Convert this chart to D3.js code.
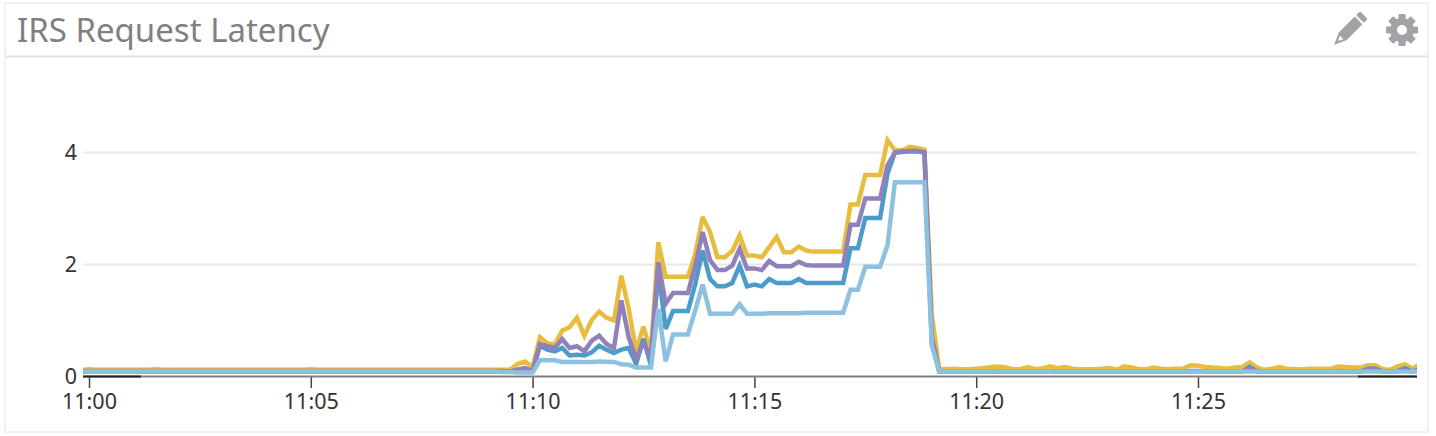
<!DOCTYPE html>
<html><head><meta charset="utf-8">
<script src="https://cdn.jsdelivr.net/npm/d3@7"></script>
<style>html,body{margin:0;padding:0;background:#fff}svg{display:block}text{font-family:"Noto Sans",sans-serif}</style>
</head><body><svg id="c" width="1436" height="436"></svg>
<script>
const chartTitle = "IRS Request Latency";
const yTicks = [0, 2, 4];
const sampleSeconds = 10;
// samples run every 10 s from 10:59:50 to 11:30:00
const yellow = [
.12,.13,.12,.12,.12,.12,.12,.12,.12,.12,.13,.12,.12,.12,.12,.12,.12,.12,.12,.12,
.12,.12,.12,.12,.12,.12,.12,.12,.12,.12,.12,.13,.12,.12,.12,.12,.12,.12,.12,.12,
.12,.12,.12,.12,.12,.12,.12,.12,.12,.12,.12,.12,.12,.12,.12,.12,.12,.12,
.125,.226,.268,.167,.70,.595,.57,.82,.88,1.05,.73,1.01,1.16,1.05,1.0,1.8,1.21,.46,.89,.43,
2.4,1.78,1.78,1.78,1.78,2.19,2.85,2.58,2.13,2.13,2.24,2.52,2.16,2.16,2.13,2.31,2.49,2.22,2.22,2.32,
2.25,2.23,2.23,2.23,2.23,2.23,3.07,3.07,3.6,3.6,3.6,4.22,4.04,4.04,4.1,4.08,4.05,1.1,
.13,.13,.14,.13,.13,.14,.15,.17,.18,.16,.13,.13,.17,.13,.15,.18,.15,.17,.14,.13,.13,.13,.14,.15,.12,.18,.16,.13,.13,.16,.14,.13,.14,.14,
.2,.19,.17,.16,.15,.14,.16,.17,.25,.16,.12,.14,.17,.14,.13,.13,.14,.14,.14,.14,.18,.17,.16,.16,.2,.2,.13,.12,.18,.22,.14,.22];
const purple = [
.1,.1,.1,.1,.1,.1,.1,.1,.1,.1,.1,.1,.1,.1,.1,.1,.1,.1,.1,.1,
.1,.1,.1,.1,.1,.1,.1,.1,.1,.1,.1,.1,.1,.1,.1,.1,.1,.1,.1,.1,
.1,.1,.1,.1,.1,.1,.1,.1,.1,.1,.1,.1,.1,.1,.1,.1,.1,.1,
.09,.125,.15,.095,.58,.54,.51,.67,.51,.54,.45,.64,.73,.58,.51,1.36,.70,.32,.60,.35,
2.04,1.3,1.49,1.49,1.49,1.98,2.58,2.08,1.90,1.90,1.98,2.28,1.93,1.93,1.90,2.06,1.97,1.97,1.97,2.05,
1.99,1.98,1.98,1.98,1.98,1.98,2.71,2.71,3.18,3.18,3.18,3.77,4.0,4.02,4.03,4.03,4.0,.7,
.09,.09,.09,.09,.09,.09,.09,.09,.09,.09,.09,.09,.09,.09,.09,.09,.09,.09,.09,.09,.09,.09,.09,.09,.09,.09,.09,.09,.09,.09,.09,.09,.09,.09,
.09,.09,.09,.09,.09,.09,.09,.09,.13,.09,.09,.09,.09,.09,.09,.09,.09,.09,.09,.09,.09,.09,.09,.09,.11,.11,.09,.09,.09,.11,.09,.11];
const blue = [
.09,.09,.09,.09,.09,.09,.09,.09,.09,.09,.09,.09,.09,.09,.09,.09,.09,.09,.09,.09,
.09,.09,.09,.09,.09,.09,.09,.09,.09,.09,.09,.09,.09,.09,.09,.09,.09,.09,.09,.09,
.09,.09,.09,.09,.09,.09,.09,.09,.09,.09,.09,.09,.09,.09,.09,.09,.09,.09,
.09,.09,.09,.09,.55,.48,.45,.51,.375,.39,.375,.43,.55,.48,.42,.48,.51,.23,.67,.2,
1.9,.85,1.17,1.17,1.17,1.65,2.25,1.74,1.61,1.61,1.67,1.98,1.61,1.64,1.61,1.74,1.67,1.67,1.67,1.74,
1.67,1.67,1.67,1.67,1.67,1.67,2.29,2.29,2.83,2.83,2.83,3.62,4.0,4.01,4.02,4.02,4.0,.6,
.09,.09,.09,.09,.09,.09,.09,.09,.09,.09,.09,.09,.09,.09,.09,.09,.09,.09,.09,.09,.09,.09,.09,.09,.09,.09,.09,.09,.09,.09,.09,.09,.09,.09,
.1,.1,.09,.09,.09,.09,.09,.09,.17,.09,.09,.09,.09,.09,.09,.09,.09,.09,.09,.09,.1,.09,.09,.09,.14,.14,.09,.09,.1,.15,.09,.13];
const lightBlue = [
.09,.09,.09,.09,.09,.09,.09,.09,.09,.09,.09,.09,.09,.09,.09,.09,.09,.09,.09,.09,
.09,.09,.09,.09,.09,.09,.09,.09,.09,.09,.09,.09,.09,.09,.09,.09,.09,.09,.09,.09,
.09,.09,.09,.09,.09,.09,.09,.09,.09,.09,.09,.09,.09,.09,.09,.09,.09,.08,
.08,.07,.07,.07,.29,.29,.29,.26,.26,.26,.26,.26,.27,.265,.26,.22,.21,.16,.16,.16,
1.21,.27,.75,.75,.75,1.18,1.64,1.12,1.12,1.12,1.12,1.29,1.12,1.12,1.12,1.13,1.13,1.13,1.13,1.13,
1.14,1.14,1.14,1.14,1.14,1.14,1.55,1.55,1.96,1.96,1.96,2.34,3.47,3.47,3.47,3.47,3.47,.55,
.09,.09,.09,.09,.09,.09,.09,.09,.09,.09,.09,.09,.09,.09,.09,.09,.09,.09,.09,.09,.09,.09,.09,.09,.09,.09,.09,.09,.09,.09,.09,.09,.09,.09,
.09,.09,.09,.09,.09,.09,.09,.09,.09,.09,.09,.09,.09,.09,.09,.09,.09,.09,.09,.09,.09,.09,.09,.09,.09,.09,.09,.09,.09,.09,.09,.09];
const seriesList = [[yellow,"#e8bd3f"],[blue,"#4b9bcb"],[purple,"#9180b9"],[lightBlue,"#8dc1e0"]];

const svg = d3.select("#c");
const t0 = Date.UTC(2020,0,1,11,0,0);
const timeAt = i => new Date(t0 + (i-1)*sampleSeconds*1000);
const minutePx = (1198-89)/25;
const x = d3.scaleUtc().domain([new Date(t0), new Date(t0+30*60000)]).range([89, 89+30*minutePx]);
const y = d3.scaleLinear().domain([0,5]).range([376.5,96.5]);
const plotL = 83, plotR = 1417;

// panel
svg.append("rect").attr("x",5).attr("y",3).attr("width",1423).attr("height",429)
  .attr("fill","#fff").attr("stroke","#f1f1f1").attr("stroke-width",2);
svg.append("line").attr("x1",5).attr("x2",1428).attr("y1",56.5).attr("y2",56.5)
  .attr("stroke","#e2e2e8").attr("stroke-width",2);
svg.append("text").attr("x",17).attr("y",42).attr("font-size",33).attr("fill","#808080").text(chartTitle);

// icons
const pencil = svg.append("g").attr("transform","translate(1349,30) rotate(45)").attr("fill","#a3a3a7");
pencil.append("rect").attr("x",-5.5).attr("y",-21).attr("width",11).attr("height",5.5).attr("rx",1.5);
pencil.append("path").attr("fill-rule","evenodd")
  .attr("d","M-5.5,-13.5H5.5V9L0,21L-5.5,9Z M-2.5,10.5L0,15.5L2.5,10.5Z");
const gear = svg.append("g").attr("transform","translate(1402,30)").attr("fill","#a3a3a7");
d3.range(8).forEach(k=>gear.append("rect").attr("x",-3.6).attr("y",-16).attr("width",7.2).attr("height",8).attr("rx",1).attr("transform",`rotate(${k*45})`));
gear.append("circle").attr("r",8.5).attr("fill","none").attr("stroke","#a3a3a7").attr("stroke-width",7);

// grid
svg.append("g").selectAll("line").data(yTicks.filter(d=>d>0)).join("line")
  .attr("x1",plotL).attr("x2",plotR).attr("y1",d=>y(d)).attr("y2",d=>y(d))
  .attr("stroke","#e8e8e8").attr("stroke-width",2);

// axes
const yAxis = d3.axisLeft(y).tickValues(yTicks).tickSize(0).tickPadding(0).tickFormat(d3.format("d"));
const yG = svg.append("g").attr("transform","translate(77,0)").call(yAxis);
yG.select(".domain").remove();
yG.selectAll("text").attr("font-size",21.5).attr("fill","#333").attr("font-family",'"Noto Sans",sans-serif');

const xAxis = d3.axisBottom(x).ticks(d3.utcMinute.every(5)).tickFormat(d3.utcFormat("%H:%M")).tickSize(11).tickPadding(6);
const xG = svg.append("g").attr("transform","translate(0,377)").call(xAxis);
xG.select(".domain").remove();
xG.selectAll(".tick").filter(d=>+d>=t0+30*60000).remove();
xG.selectAll("line").attr("stroke","#444").attr("stroke-width",1.5);
xG.selectAll("text").attr("font-size",21.5).attr("fill","#333").attr("font-family",'"Noto Sans",sans-serif');

svg.append("line").attr("x1",plotL).attr("x2",plotR).attr("y1",376.6).attr("y2",376.6).attr("stroke","#808080").attr("stroke-width",2);
[[plotL,141],[1358,plotR]].forEach(([a,b])=>svg.append("line").attr("x1",a).attr("x2",b).attr("y1",376.6).attr("y2",376.6).attr("stroke","#222").attr("stroke-width",2));

// series
svg.append("clipPath").attr("id","plot").append("rect").attr("x",plotL).attr("y",60).attr("width",plotR-plotL).attr("height",320);
const line = d3.line().x((d,i)=>x(timeAt(i))).y(d=>y(d)).curve(d3.curveLinear);
svg.append("g").attr("clip-path","url(#plot)").selectAll("path").data(seriesList).join("path")
  .attr("d",d=>line(d[0])).attr("fill","none").attr("stroke",d=>d[1]).attr("stroke-width",4.5).attr("stroke-linejoin","miter").attr("stroke-miterlimit",3);
</script></body></html>
